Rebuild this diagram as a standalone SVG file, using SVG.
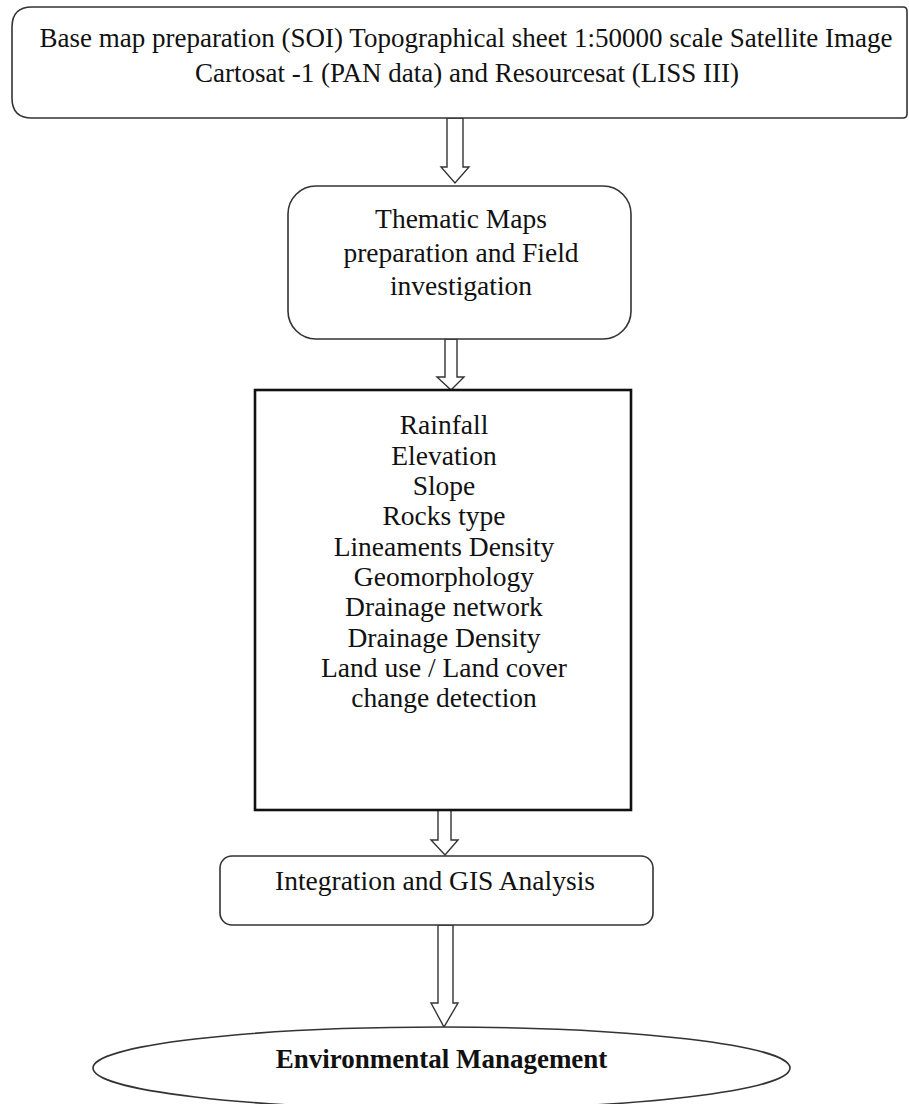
<svg xmlns="http://www.w3.org/2000/svg" width="909" height="1104" viewBox="0 0 909 1104">
<style>
.box{fill:#fff;stroke:#333;stroke-width:1.6}
.rect{fill:#fff;stroke:#111;stroke-width:2.6}
.arr{fill:#fff;stroke:#333;stroke-width:1.4;stroke-linejoin:miter}
.t{font-family:"Liberation Serif","Times New Roman",serif;font-size:27.5px;fill:#111;text-anchor:middle}
.top{font-size:27px}
.b{font-weight:bold;font-size:27px}
</style>
<rect width="909" height="1104" fill="#fff"/>
<g id="connectors">
<polygon class="arr" points="447,118 463,118 463,167 469,167 455,183 441,167 447,167"/>
<polygon class="arr" points="445,339 457,339 457,377 464,377 451,390 437,377 445,377"/>
<polygon class="arr" points="438,803 451,803 451,840 458,840 445,855 431,840 438,840"/>
<polygon class="arr" points="438,925 453,925 453,1003 458,1003 444,1027 431,1003 438,1003"/>
</g>
<g id="node-base-map">
<path class="box" d="M32,7 H903 Q907,7 907,11 V114 Q907,118 903,118 H32 Q12,118 12,98 V27 Q12,7 32,7 Z"/>
<text class="t top" x="466" y="47">Base map preparation (SOI) Topographical sheet 1:50000 scale Satellite Image</text>
<text class="t top" x="467" y="82">Cartosat -1 (PAN data) and Resourcesat (LISS III)</text>
</g>
<g id="node-thematic">
<rect class="box" x="288" y="186" width="343" height="153" rx="28" ry="28"/>
<text class="t" x="461" y="228">Thematic Maps</text>
<text class="t" x="461" y="262">preparation and Field</text>
<text class="t" x="461" y="295">investigation</text>
</g>
<g id="node-layers">
<rect class="rect" x="255" y="390" width="376" height="420"/>
<text class="t" x="444" y="434">Rainfall</text>
<text class="t" x="444" y="464.5">Elevation</text>
<text class="t" x="444" y="495">Slope</text>
<text class="t" x="444" y="525">Rocks type</text>
<text class="t" x="444" y="555.5">Lineaments Density</text>
<text class="t" x="444" y="586">Geomorphology</text>
<text class="t" x="444" y="616">Drainage network</text>
<text class="t" x="444" y="646.5">Drainage Density</text>
<text class="t" x="444" y="677">Land use / Land cover</text>
<text class="t" x="444" y="707">change detection</text>
</g>
<g id="node-integration">
<rect class="box" x="220" y="856" width="433" height="69" rx="12" ry="12"/>
<text class="t" x="435" y="890">Integration and GIS Analysis</text>
</g>
<g id="node-environmental">
<ellipse class="box" cx="441.5" cy="1068" rx="348.5" ry="41"/>
<text class="t b" x="441.5" y="1068">Environmental Management</text>
</g>
</svg>
